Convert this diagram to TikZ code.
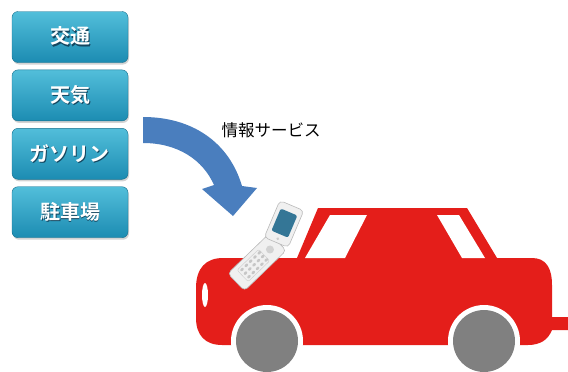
\documentclass[tikz,border=0pt]{standalone}
\usepackage{fontspec}
\newfontfamily\jpfont{Noto Sans CJK JP}
\newfontfamily\jpbold{Noto Sans CJK JP Bold}
\usepackage{tikz}
\usepackage{xcolor}
\usetikzlibrary{positioning, shadows, calc}

\definecolor{boxtop}{RGB}{82, 190, 218}
\definecolor{boxbottom}{RGB}{28, 140, 178}
\definecolor{boxtext}{RGB}{20, 70, 95}
\definecolor{arrowblue}{RGB}{74, 126, 190}
\definecolor{carred}{RGB}{228, 30, 26}
\definecolor{wheelgray}{RGB}{128, 128, 128}
\definecolor{screenblue}{RGB}{52, 118, 150}

% white label with a dark offset copy behind it
\newcommand{\boxlabel}[1]{\makebox[0pt][l]{\hspace{1pt}\raisebox{-1.2pt}{\textcolor{boxtext}{#1}}}#1}

\tikzset{
  infobox/.style={rounded corners=6pt, minimum width=116pt, minimum height=51pt,
    top color=boxtop, bottom color=boxbottom, draw=boxbottom!80!black, line width=0.4pt,
    drop shadow={shadow xshift=1pt, shadow yshift=-2pt, opacity=0.35},
    text=white, font=\jpbold\fontsize{20}{20}\selectfont, inner sep=0pt},
  phonepart/.style={rounded corners=4pt, fill=gray!12, draw=gray!55, line width=0.6pt}
}

\begin{document}
\begin{tikzpicture}[x=1pt, y=-1pt]
    \useasboundingbox (0,0) rectangle (568,372);

    % Info boxes
    \node[infobox] (traffic) at (70,37) {\boxlabel{交通}};
    \node[infobox, below=7pt of traffic] (weather) {\boxlabel{天気}};
    \node[infobox, below=7pt of weather] (gasoline) {\boxlabel{ガソリン}};
    \node[infobox, below=7pt of gasoline] (parking) {\boxlabel{駐車場}};

    % Service label
    \node[font=\jpfont\fontsize{16.5}{16.5}\selectfont, anchor=west] (service) at (218,130) {情報サービス};

    % Curved arrow
    \fill[arrowblue] (143,117) .. controls (192,117) and (229,142) .. (242,186)
        -- (257,188) -- (233,216) -- (202,189) -- (214,185)
        .. controls (203,160) and (178,143) .. (143,143) -- cycle;

    % Car body
    \fill[carred] (223,258) -- (297,258) -- (318,208) -- (467,208) -- (497,258) -- (532,258)
        .. controls (546,258) and (552,268) .. (552,285) -- (552,317) -- (568,317)
        -- (568,330) -- (552,330)
        .. controls (548,340) and (540,345) .. (528,345) -- (222,345)
        .. controls (205,345) and (196,335) .. (196,318) -- (196,288)
        .. controls (196,268) and (206,258) .. (223,258) -- cycle;

    % Windows and headlight
    \fill[white] (330,215) -- (367,215) -- (345,258) -- (305,258) -- cycle;
    \fill[white] (437,215) -- (459,215) -- (485,258) -- (462,258) -- cycle;
    \fill[white] (205,295) ellipse (3pt and 12pt);

    % Wheels
    \foreach \wx in {267, 484} {
        \fill[white] (\wx,341) circle (36pt);
        \fill[wheelgray] (\wx,341) circle (31pt);
    }

    % Phone, keypad half
    \begin{scope}[shift={(257,262)}, rotate=44]
        \filldraw[phonepart] (-29,-12) rectangle (29,12);
        \draw[gray!40, rounded corners=2pt] (-20,-8) rectangle (10,8);
        \foreach \kx in {-16,-10,-4,2,8} {
            \foreach \ky in {-5,0,5} {
                \fill[gray!45] (\kx,\ky) ellipse (2pt and 1.4pt);
            }
        }
        \fill[gray!35] (18,0) circle (4pt);
    \end{scope}

    % Phone, screen half
    \begin{scope}[shift={(284,224)}, rotate=67]
        \filldraw[phonepart] (-20,-13) rectangle (20,13);
        \fill[screenblue, rounded corners=2pt] (-11,-9) rectangle (13,9);
        \fill[gray!40] (-16,0) circle (1.5pt);
    \end{scope}
\end{tikzpicture}
\end{document}
